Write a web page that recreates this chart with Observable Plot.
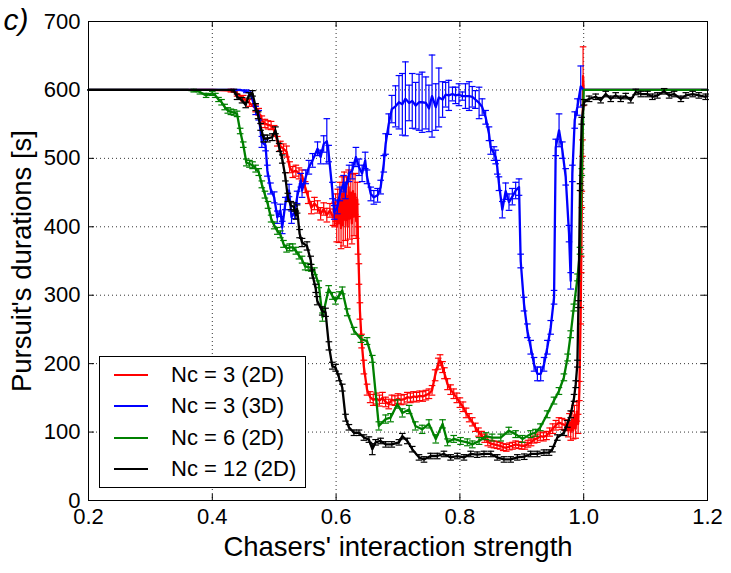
<!DOCTYPE html>
<html>
<head>
<meta charset="utf-8">
<script src="https://cdn.jsdelivr.net/npm/d3@7"></script>
<script src="https://cdn.jsdelivr.net/npm/@observablehq/plot@0.6"></script>
<style>
  html, body { margin: 0; padding: 0; background: white; }
  #wrap { position: relative; width: 731px; height: 573px; font-family: "Liberation Sans", Arial, sans-serif; }
  #legend { position: absolute; left: 99px; top: 356px; width: 205px; height: 130px; border: 1px solid black; background: white; }
  .item { position: absolute; left: 0; height: 30px; width: 205px; }
  .swatch { position: absolute; left: 14px; width: 34px; height: 0; border-top: 2px solid; }
  .lab { position: absolute; left: 71px; font-size: 22px; line-height: 22px; white-space: nowrap; }
</style>
</head>
<body>
<div id="wrap"></div>
<script>
// ---- data ----
const xTicks = [0.2, 0.4, 0.6, 0.8, 1.0, 1.2];
const yTicks = [0, 100, 200, 300, 400, 500, 600, 700];
const seriesNames = ["Nc = 3 (2D)", "Nc = 3 (3D)", "Nc = 6 (2D)", "Nc = 12 (2D)"];
const seriesColors = ["#ff0000", "#0000ff", "#008000", "#000000"];

const redX = [0.20,0.30,0.40,0.43,0.44,0.45,0.46,0.47,0.475,0.48,0.485,0.49,0.495,0.50,0.505,0.51,0.515,0.52,0.525,0.53,0.535,0.54,0.545,0.55,0.555,0.56,0.565,0.57,0.575,0.58,0.585,0.59,0.595,
  0.5975,0.5992,0.601,0.6027,0.6045,0.6062,0.608,0.6097,0.6115,0.6132,0.615,0.6167,0.6185,0.6202,0.622,0.6237,0.6255,0.6272,0.629,0.6307,0.6325,0.6342,0.6353,0.6369,0.6385,0.6412,0.6449,
  0.65,0.655,0.66,0.665,0.67,0.675,0.68,0.685,0.69,0.695,0.70,0.705,0.71,0.715,0.72,0.725,0.73,0.735,0.74,0.745,0.75,0.755,0.76,0.765,0.768,0.772,0.775,0.78,0.785,0.79,0.795,
  0.80,0.805,0.81,0.815,0.82,0.825,0.83,0.835,0.84,0.845,0.85,0.855,0.86,0.865,0.87,0.875,0.88,0.885,0.89,0.895,0.90,0.905,0.91,0.915,0.92,0.925,0.93,0.935,0.94,0.945,0.95,0.955,0.96,0.965,0.97,0.975,
  0.977,0.979,0.981,0.983,0.985,0.987,0.989,0.991,0.993,0.995,0.996,0.997,0.998,0.999,1.0,1.1,1.2];
const redY = [600,600,600,599,595,588,581,573,568,556,551,549,548,541,525,518,514,510,487,480,482,478,475,458,443,428,434,429,419,426,417,424,414,
  418,428,400,430,405,440,398,448,402,455,410,445,400,458,412,450,405,452,415,448,408,440,380,331,277,233,195,
  162,151,147,149,146,150,144,141,147,146,149,147,148,151,150,152,151,153,152,154,156,161,183,200,205,195,186,170,162,156,150,
  143,137,128,121,115,107,100,95,91,86,83,82,81,80,78,77,79,80,82,81,80,80,83,85,89,91,94,93,95,100,105,110,114,112,110,103,
  115,100,118,102,125,105,130,112,160,270,345,440,515,620,600,600,600];
const redErr = [0,0,0,2,4,4,5,5,5,6,6,6,6,7,7,7,7,8,8,8,8,8,8,8,9,9,9,9,9,9,10,10,12,
  18,20,22,25,28,25,30,25,30,25,30,28,30,25,30,28,30,25,28,30,25,25,20,15,12,10,10,
  8,8,8,8,8,8,7,7,7,7,7,7,7,7,7,7,7,7,7,7,7,7,8,8,8,8,8,8,7,7,7,
  7,7,7,6,6,6,6,6,6,6,5,5,5,5,5,5,5,5,5,5,5,5,5,5,5,6,6,6,6,6,7,7,7,8,8,10,
  12,12,12,12,14,14,14,14,14,12,12,12,12,43,0,0,0];

const blueX = [0.20,0.30,0.40,0.445,0.455,0.462,0.47,0.475,0.48,0.486,0.489,0.494,0.50,0.505,0.51,0.513,0.518,0.524,0.528,0.533,0.537,0.543,0.545,0.551,0.556,0.562,0.57,0.575,0.58,0.585,0.588,0.594,0.597,
  0.602,0.606,0.612,0.615,0.621,0.626,0.632,0.637,0.642,0.647,0.65,0.656,0.661,0.667,0.672,0.677,0.68,0.685,0.69,
  0.696,0.7015,0.707,0.712,0.718,0.723,0.7285,0.734,0.739,0.745,0.75,0.755,0.761,0.766,0.772,0.777,0.782,0.788,0.793,0.7985,0.804,0.809,0.815,0.82,0.825,0.831,
  0.836,0.8416,0.847,0.8497,0.8551,0.8578,0.8604,0.8631,0.8685,0.8739,0.8793,0.8847,0.8901,0.8955,0.8982,0.9036,0.909,0.9144,0.9198,0.9252,0.9305,0.9359,0.9413,0.9467,0.9521,
  0.9548,0.9602,0.9655,0.9709,0.9763,0.979,0.9817,0.9855,0.9898,0.9952,1.0,1.2];
const blueY = [600,600,600,600,598,595,570,563,524,519,482,456,443,414,424,399,434,453,414,421,443,468,453,473,487,497,514,502,521,525,507,453,421,
  429,448,463,453,478,482,502,487,478,497,473,448,443,446,458,492,521,550,572,
  576,582,579,587,581,584,577,582,582,581,573,591,575,589,586,593,592,594,592,593,591,591,591,590,586,581,
  575,560,536,516,507,502,487,463,425,452,436,444,453,458,350,287,248,224,199,185,185,199,224,253,297,
  516,541,512,473,390,321,478,556,575,605,600,600];
const blueErr = [0,0,0,0,2,4,6,7,8,8,8,8,8,9,9,9,9,9,9,9,9,10,10,10,10,10,10,10,12,33,12,12,10,
  10,10,12,12,12,12,14,12,12,12,10,10,10,10,10,12,15,15,20,
  30,39,45,54,26,40,34,41,44,38,34,60,34,43,26,18,22,10,12,16,6,18,21,15,13,23,
  12,10,10,10,10,10,10,10,12,12,12,12,12,12,10,10,10,10,10,10,10,10,10,10,10,
  12,24,12,12,12,12,12,12,12,30,0,0];

const greenX = [0.20,0.30,0.36,0.37,0.38,0.39,0.40,0.405,0.41,0.415,0.42,0.425,0.43,0.435,0.44,0.445,0.45,0.455,0.46,0.465,0.47,0.475,0.48,0.485,0.49,0.495,0.50,0.505,0.51,0.515,0.52,0.525,0.53,0.535,0.54,0.545,0.55,0.555,0.56,0.565,
  0.572,0.578,0.588,0.594,0.599,0.605,0.61,0.618,0.629,0.64,0.65,0.6585,0.669,0.68,0.688,0.699,0.707,0.718,0.728,0.739,0.75,0.761,0.772,0.78,0.79,0.801,0.812,0.82,0.831,0.842,0.852,0.866,0.879,0.89,0.901,0.914,0.922,0.930,0.941,0.952,0.96,0.968,0.974,0.979,0.984,0.99,0.994,0.997,1.0,1.2];
const greenY = [600,600,600,599,597,592,595,592,586,582,575,570,568,567,565,540,520,494,492,490,485,480,462,447,432,412,402,394,389,375,368,370,370,365,358,352,342,341,340,335,
  316,268,309,299,292,300,307,275,248,236,233,207,109,119,121,141,128,133,109,104,112,90,112,85,90,87,85,82,87,94,92,92,102,97,90,97,99,107,126,146,160,180,209,243,282,326,365,480,600,600];
const greenErr = [0,0,0,2,3,3,3,3,3,4,4,4,4,4,4,4,4,5,5,5,5,5,5,5,5,5,5,5,5,5,5,5,5,5,5,5,5,5,5,5,
  5,6,5,5,5,5,5,5,5,5,5,5,6,6,6,6,6,6,6,6,6,6,6,5,5,5,5,5,5,5,5,5,5,5,5,5,5,5,5,5,5,5,5,5,5,5,5,5,0,0];

const blackX = [0.20,0.30,0.40,0.43,0.435,0.44,0.448,0.454,0.459,0.465,0.47,0.474,0.478,0.483,0.489,0.497,0.502,0.508,0.513,0.518,0.522,0.527,0.532,0.535,0.537,0.541,0.545,0.553,0.559,0.5615,0.567,0.5695,0.5776,0.583,0.5884,0.5938,0.5992,0.6046,0.61,0.6153,0.6207,0.6288,0.637,0.6449,0.653,0.6585,0.6638,0.6719,0.68,0.69,
  0.7015,0.707,0.715,0.723,0.7339,0.742,0.7527,0.7635,0.7742,0.785,0.7958,0.8066,0.8174,0.828,0.8389,0.85,0.8604,0.8712,0.882,0.8928,0.904,0.9143,0.925,0.9358,0.944,0.9494,0.9574,0.9682,0.9736,0.979,0.9844,0.9871,0.9898,0.9915,0.9941,0.9968,
  1.0006,1.0087,1.0194,1.0275,1.0356,1.0437,1.0517,1.0598,1.0679,1.076,1.0841,1.0922,1.103,1.111,1.119,1.13,1.138,1.146,1.157,1.165,1.176,1.186,1.197,1.2];
const blackY = [600,600,600,600,599,590,585,578,592,595,575,563,546,529,529,531,541,516,499,473,443,431,429,417,426,390,377,372,351,331,310,292,277,275,226,197,194,180,165,121,107,99,99,92,89,75,85,87,82,82,
  85,94,87,75,63,60,65,65,68,63,65,63,68,67,68,68,63,60,60,63,64,68,68,70,70,75,92,99,112,126,150,170,200,287,458,555,
  582,587,590,585,594,587,592,587,591,585,597,594,594,590,592,598,592,594,587,592,594,592,590,591];
const blackErr = [0,0,0,0,2,4,4,4,4,4,5,5,5,5,5,5,5,6,6,6,6,6,6,6,6,6,6,6,6,6,6,6,6,6,6,5,5,5,5,5,4,4,4,4,4,8,4,4,4,4,
  4,4,4,4,4,4,4,4,4,4,4,4,4,4,4,4,4,4,4,4,4,4,4,4,4,4,4,4,5,5,5,5,5,5,5,5,
  4,4,4,4,4,4,4,4,4,4,4,4,4,4,4,4,4,4,4,4,4,4,4,0];

// ---- build tables ----
const toRows = (xs, ys, es) => xs.map((x, i) => ({x, y: ys[i], e: es[i]}));
const series = [
  toRows(redX, redY, redErr),
  toRows(blueX, blueY, blueErr),
  toRows(greenX, greenY, greenErr),
  toRows(blackX, blackY, blackErr)
];

// horizontal-line symbol for error-bar caps
const capSymbol = {
  draw(context, size) {
    const r = Math.sqrt(size / Math.PI);
    context.moveTo(-r, 0);
    context.lineTo(r, 0);
  }
};

const W = 731, H = 573, mL = 88, mT = 21, mR = 24, mB = 73;
const innerW = W - mL - mR, innerH = H - mT - mB;

const marks = [
  Plot.gridX([0.4, 0.6, 0.8, 1.0], {stroke: "black", strokeOpacity: 1, strokeWidth: 0.8, strokeDasharray: "1,3"}),
  Plot.gridY([100, 200, 300, 400, 500, 600], {stroke: "black", strokeOpacity: 1, strokeWidth: 0.8, strokeDasharray: "1,3"})
];
series.forEach((rows, i) => {
  const c = seriesColors[i];
  const eb = rows.filter(d => d.e > 0);
  marks.push(
    Plot.ruleX(eb, {x: "x", y1: d => d.y - d.e, y2: d => d.y + d.e, stroke: c, strokeWidth: 1.2}),
    Plot.dot(eb, {x: "x", y: d => d.y - d.e, symbol: capSymbol, r: 3.3, stroke: c, strokeWidth: 1.2}),
    Plot.dot(eb, {x: "x", y: d => d.y + d.e, symbol: capSymbol, r: 3.3, stroke: c, strokeWidth: 1.2}),
    Plot.line(rows, {x: "x", y: "y", stroke: c, strokeWidth: 2.3})
  );
});
marks.push(
  Plot.frame({stroke: "black", strokeWidth: 1}),
  Plot.tickY(yTicks, {y: d => d, insetRight: innerW - 6, stroke: "black"}),
  Plot.tickY(yTicks, {y: d => d, insetLeft: innerW - 6, stroke: "black"}),
  Plot.tickX(xTicks, {x: d => d, insetTop: innerH - 6, stroke: "black"}),
  Plot.tickX(xTicks, {x: d => d, insetBottom: innerH - 6, stroke: "black"}),
  Plot.axisX({ticks: xTicks, tickSize: 0, tickPadding: 8, tickFormat: d3.format(".1f"), label: null, fontSize: 22}),
  Plot.axisY({ticks: yTicks, tickSize: 0, tickPadding: 8, label: null, fontSize: 22}),
  Plot.text(["Chasers' interaction strength"], {frameAnchor: "bottom", text: d => d, dy: 55, lineAnchor: "bottom", fontSize: 27.5}),
  Plot.text(["Pursuit's durations [s]"], {frameAnchor: "left", text: d => d, dx: -66, rotate: -90, textAnchor: "middle", lineAnchor: "middle", fontSize: 27.5}),
  Plot.text(["c)"], {frameAnchor: "top-left", text: d => d, dx: -85, dy: 8, textAnchor: "start", lineAnchor: "bottom", fontSize: 30, fontStyle: "italic"})
);

const chart = Plot.plot({
  width: W, height: H,
  marginLeft: mL, marginTop: mT, marginRight: mR, marginBottom: mB,
  x: {domain: [0.2, 1.2]},
  y: {domain: [0, 700]},
  style: {fontFamily: "'Liberation Sans', Arial, sans-serif", fontSize: "22px", background: "white", color: "black", overflow: "visible"},
  marks
});

const wrap = document.getElementById("wrap");
wrap.appendChild(chart);

// legend
const legend = document.createElement("div");
legend.id = "legend";
seriesNames.forEach((name, i) => {
  const item = document.createElement("div");
  item.className = "item";
  item.style.top = (2 + i * 31.3) + "px";
  const sw = document.createElement("div");
  sw.className = "swatch";
  sw.style.borderTopColor = seriesColors[i];
  sw.style.top = "15px";
  const lab = document.createElement("div");
  lab.className = "lab";
  lab.style.top = "5px";
  lab.textContent = name;
  item.appendChild(sw);
  item.appendChild(lab);
  legend.appendChild(item);
});
wrap.appendChild(legend);
</script>
</body>
</html>
